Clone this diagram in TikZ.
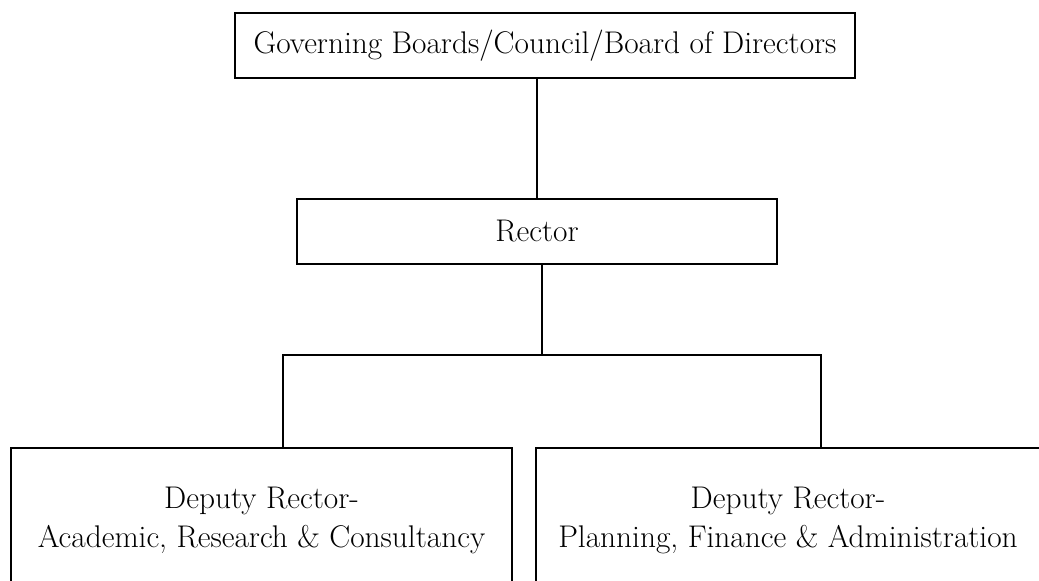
\documentclass[tikz,border=0pt]{standalone}
\usetikzlibrary{positioning}
\begin{document}
\begin{tikzpicture}[x=0.75pt,y=-0.75pt]
	\tikzstyle{every node}=[font=\fontsize{23.5}{29.25}\selectfont];
	\tikzstyle{unit}=[draw,rectangle,align=center,line width=1.2pt,inner sep=0pt];
	\tikzstyle{con}=[draw,line width=1.2pt];
	\clip (0,0) rectangle (1039,581);
	\node (board) [unit,minimum width=465pt,minimum height=48.75pt] at (545,45.5) {Governing Boards/Council/Board of Directors};
	\node (rector) [unit,minimum width=360pt,minimum height=48.75pt] at (537,231.5) {Rector};
	\node (acad) [unit,minimum width=375.75pt,minimum height=108pt] at (261.5,520) {Deputy Rector-\\Academic, Research \& Consultancy};
	\node (plan) [unit,minimum width=378pt,minimum height=108pt] at (788,520) {Deputy Rector-\\Planning, Finance \& Administration};
	\coordinate (split) at (542,355);
	\coordinate (jl) at (283,355);
	\coordinate (jr) at (821,355);
	\draw[con] (board.south -| rector.north) -- (rector);
	\draw[con] (split |- rector.south) -- (split);
	\draw[con] (jl |- acad.north) -- (jl) -- (jr) -- (jr |- plan.north);
\end{tikzpicture}
\end{document}
